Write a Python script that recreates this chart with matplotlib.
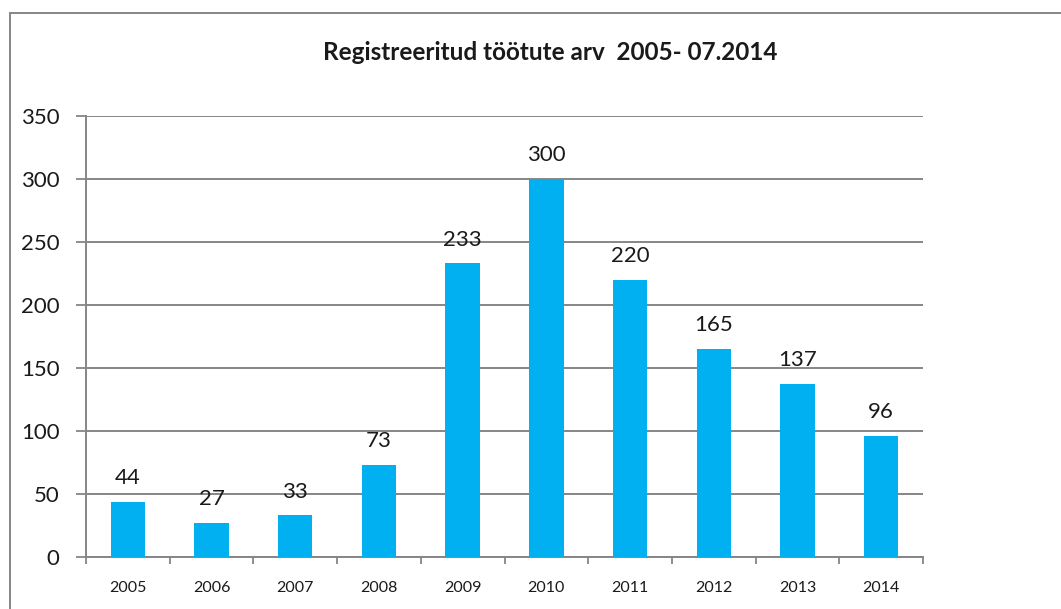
import matplotlib.pyplot as plt
from matplotlib.patches import Rectangle

years = ["2005", "2006", "2007", "2008", "2009", "2010", "2011", "2012", "2013", "2014"]
counts = [44, 27, 33, 73, 233, 300, 220, 165, 137, 96]
y_ticks = [0, 50, 100, 150, 200, 250, 300, 350]

plt.rcParams['font.family'] = ['Lato', 'DejaVu Sans']
W, H = 1061, 609
fig = plt.figure(figsize=(W / 100, H / 100), dpi=100)
ax = fig.add_axes([86 / W, 1 - 557 / H, (923 - 86) / W, (557 - 116) / H])

gray = "#868686"
x = list(range(len(years)))
ax.bar(x, counts, width=0.41, color="#00B0F0", zorder=3)
for xi, v in zip(x, counts):
    ax.annotate(str(v), (xi, v), xytext=(0, 10), textcoords="offset points",
                ha="center", va="bottom", fontsize=16, color="#1a1a1a")

ax.set_xlim(-0.5, len(years) - 0.5)
ax.set_ylim(0, 350)
ax.set_yticks(y_ticks)
ax.set_xticks(x)
ax.set_xticklabels(years, fontsize=11.5)
ax.set_xticks([i - 0.5 for i in range(len(years) + 1)], minor=True)
ax.tick_params(axis="x", which="major", length=0, pad=17, labelcolor="#1a1a1a")
ax.tick_params(axis="x", which="minor", length=5, width=1.3, color=gray, direction="out")
ax.tick_params(axis="y", length=7, width=1.3, color=gray, labelsize=16, pad=12, labelcolor="#1a1a1a")
ax.grid(axis="y", color=gray, linewidth=1.4, zorder=0)
for s in ["top", "right"]:
    ax.spines[s].set_visible(False)
for s in ["left", "bottom"]:
    ax.spines[s].set_color(gray)
    ax.spines[s].set_linewidth(1.4)

fig.text(550 / W, 1 - 52 / H, "Registreeritud töötute arv  2005- 07.2014",
         ha="center", va="center", fontsize=17.5, fontweight="bold", color="#1a1a1a")

fig.patches.append(Rectangle((10 / W, -0.1), 1.2, 1 - 13 / H + 0.1, transform=fig.transFigure,
                             fill=False, edgecolor=gray, linewidth=1.4, clip_on=False))

fig.savefig("out.png", dpi=100)
